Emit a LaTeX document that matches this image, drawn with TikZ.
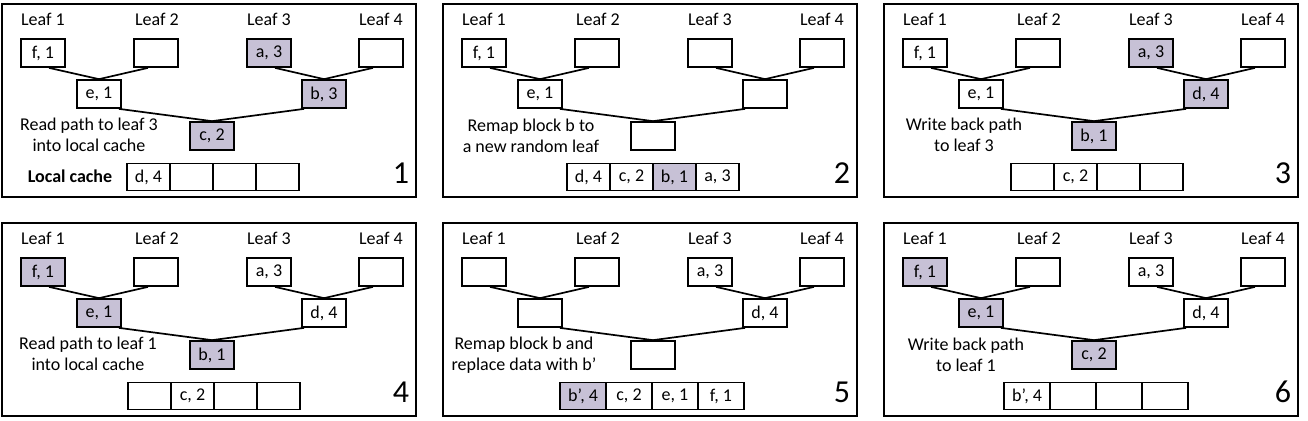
\documentclass[tikz,border=0pt]{standalone}
\usepackage{fontspec}
\setmainfont{Carlito}
\usetikzlibrary{positioning}
\definecolor{pathshade}{RGB}{199,193,214}

\begin{document}
\begin{tikzpicture}[
    % Global options: one unit is one pixel of the 1308x420 sheet
    x=0.5pt, y=-0.5pt,
    line width=0.85pt,
    font=\fontsize{9}{10.5}\selectfont,
    blk/.style={draw, minimum width=22pt, minimum height=14pt, inner sep=1pt},
    hot/.style={blk, fill=pathshade},
    cell/.style={blk, minimum width=21.5pt, minimum height=13.5pt, outer sep=0pt},
    widecell/.style={cell, minimum width=23pt},
    panelbox/.style={line width=1.2pt},
    link/.style={line width=0.85pt},
    note/.style={align=center},
    stepno/.style={font=\fontsize{16}{18}\selectfont},
  ]
    \useasboundingbox (0,0) rectangle (1308,420);

    % --- Panel 1: read path to leaf 3 ---
    \begin{scope}[shift={(2,4)}, name prefix=p1-]
      \draw[panelbox] (0,0) rectangle (414,193);
      \foreach \i/\x in {1/41,2/155,3/267,4/379}
        \node (t\i) at (\x,15) {Leaf \i};
      \node[blk] (l1) at (41,49) {f, 1};
      \node[blk] (l2) at (154,49) {};
      \node[hot] (l3) at (267,49) {a, 3};
      \node[blk] (l4) at (379,49) {};
      \node[blk] (m1) at (97,90) {e, 1};
      \node[hot] (m2) at (322,90) {b, 3};
      \node[hot] (r) at (210,132) {c, 2};
      \draw[link] ([xshift=3pt]l1.south) -- (m1.north) -- ([xshift=-4pt]l2.south);
      \draw[link] ([xshift=3pt]l3.south) -- (m2.north) -- ([xshift=-4pt]l4.south);
      \draw[link] ([xshift=-1.5pt]m1.south east) -- (r.north) -- ([xshift=1.5pt]m2.south west);
      \node[note] (msg) at (87,131) {Read path to leaf 3\\into local cache};
      \node[font=\fontsize{9}{10.5}\selectfont\bfseries] (lc) at (68,172) {Local cache};
      \node[cell] (c1) at (146.5,173) {d, 4};
      \node[cell, right=0pt of c1] (c2) {};
      \node[cell, right=0pt of c2] (c3) {};
      \node[cell, right=0pt of c3] (c4) {};
      \node[stepno] (n) at (399,169) {1};
    \end{scope}

    % --- Panel 2: remap block b ---
    \begin{scope}[shift={(443,4)}, name prefix=p2-]
      \draw[panelbox] (0,0) rectangle (414,193);
      \foreach \i/\x in {1/41,2/155,3/267,4/379}
        \node (t\i) at (\x,15) {Leaf \i};
      \node[blk] (l1) at (41,49) {f, 1};
      \node[blk] (l2) at (154,49) {};
      \node[blk] (l3) at (267,49) {};
      \node[blk] (l4) at (379,49) {};
      \node[blk] (m1) at (97,90) {e, 1};
      \node[blk] (m2) at (322,90) {};
      \node[blk] (r) at (210,132) {};
      \draw[link] ([xshift=3pt]l1.south) -- (m1.north) -- ([xshift=-4pt]l2.south);
      \draw[link] ([xshift=3pt]l3.south) -- (m2.north) -- ([xshift=-4pt]l4.south);
      \draw[link] ([xshift=-1.5pt]m1.south east) -- (r.north) -- ([xshift=1.5pt]m2.south west);
      \node[note] (msg) at (88,132) {Remap block b to\\a new random leaf};
      \node[cell] (c1) at (145.5,173) {d, 4};
      \node[cell, right=0pt of c1] (c2) {c, 2};
      \node[cell, fill=pathshade, right=0pt of c2] (c3) {b, 1};
      \node[cell, right=0pt of c3] (c4) {a, 3};
      \node[stepno] (n) at (399,169) {2};
    \end{scope}

    % --- Panel 3: write back path to leaf 3 ---
    \begin{scope}[shift={(884,4)}, name prefix=p3-]
      \draw[panelbox] (0,0) rectangle (414,193);
      \foreach \i/\x in {1/41,2/155,3/267,4/379}
        \node (t\i) at (\x,15) {Leaf \i};
      \node[blk] (l1) at (41,49) {f, 1};
      \node[blk] (l2) at (154,49) {};
      \node[hot] (l3) at (267,49) {a, 3};
      \node[blk] (l4) at (379,49) {};
      \node[blk] (m1) at (97,90) {e, 1};
      \node[hot] (m2) at (322,90) {d, 4};
      \node[hot] (r) at (210,132) {b, 1};
      \draw[link] ([xshift=3pt]l1.south) -- (m1.north) -- ([xshift=-4pt]l2.south);
      \draw[link] ([xshift=3pt]l3.south) -- (m2.north) -- ([xshift=-4pt]l4.south);
      \draw[link] ([xshift=-1.5pt]m1.south east) -- (r.north) -- ([xshift=1.5pt]m2.south west);
      \node[note] (msg) at (80,131) {Write back path\\to leaf 3};
      \node[cell] (c1) at (148.5,173) {};
      \node[cell, right=0pt of c1] (c2) {c, 2};
      \node[cell, right=0pt of c2] (c3) {};
      \node[cell, right=0pt of c3] (c4) {};
      \node[stepno] (n) at (399,169) {3};
    \end{scope}

    % --- Panel 4: read path to leaf 1 ---
    \begin{scope}[shift={(2,223)}, name prefix=p4-]
      \draw[panelbox] (0,0) rectangle (414,193);
      \foreach \i/\x in {1/41,2/155,3/267,4/379}
        \node (t\i) at (\x,15) {Leaf \i};
      \node[hot] (l1) at (41,49) {f, 1};
      \node[blk] (l2) at (154,49) {};
      \node[blk] (l3) at (267,49) {a, 3};
      \node[blk] (l4) at (379,49) {};
      \node[hot] (m1) at (97,90) {e, 1};
      \node[blk] (m2) at (322,90) {d, 4};
      \node[hot] (r) at (210,132) {b, 1};
      \draw[link] ([xshift=3pt]l1.south) -- (m1.north) -- ([xshift=-4pt]l2.south);
      \draw[link] ([xshift=3pt]l3.south) -- (m2.north) -- ([xshift=-4pt]l4.south);
      \draw[link] ([xshift=-1.5pt]m1.south east) -- (r.north) -- ([xshift=1.5pt]m2.south west);
      \node[note] (msg) at (86,131) {Read path to leaf 1\\into local cache};
      \node[cell] (c1) at (147.5,173) {};
      \node[cell, right=0pt of c1] (c2) {c, 2};
      \node[cell, right=0pt of c2] (c3) {};
      \node[cell, right=0pt of c3] (c4) {};
      \node[stepno] (n) at (399,169) {4};
    \end{scope}

    % --- Panel 5: remap block b, new data b' ---
    \begin{scope}[shift={(443,223)}, name prefix=p5-]
      \draw[panelbox] (0,0) rectangle (414,193);
      \foreach \i/\x in {1/41,2/155,3/267,4/379}
        \node (t\i) at (\x,15) {Leaf \i};
      \node[blk] (l1) at (41,49) {};
      \node[blk] (l2) at (154,49) {};
      \node[blk] (l3) at (267,49) {a, 3};
      \node[blk] (l4) at (379,49) {};
      \node[blk] (m1) at (97,90) {};
      \node[blk] (m2) at (322,90) {d, 4};
      \node[blk] (r) at (210,132) {};
      \draw[link] ([xshift=3pt]l1.south) -- (m1.north) -- ([xshift=-4pt]l2.south);
      \draw[link] ([xshift=3pt]l3.south) -- (m2.north) -- ([xshift=-4pt]l4.south);
      \draw[link] ([xshift=-1.5pt]m1.south east) -- (r.north) -- ([xshift=1.5pt]m2.south west);
      \node[note] (msg) at (81,132) {Remap block b and\\replace data with b’};
      \node[widecell, fill=pathshade] (c1) at (140,173) {b’, 4};
      \node[widecell, right=0pt of c1] (c2) {c, 2};
      \node[widecell, right=0pt of c2] (c3) {e, 1};
      \node[widecell, right=0pt of c3] (c4) {f, 1};
      \node[stepno] (n) at (399,169) {5};
    \end{scope}

    % --- Panel 6: write back path to leaf 1 ---
    \begin{scope}[shift={(884,223)}, name prefix=p6-]
      \draw[panelbox] (0,0) rectangle (414,193);
      \foreach \i/\x in {1/41,2/155,3/267,4/379}
        \node (t\i) at (\x,15) {Leaf \i};
      \node[hot] (l1) at (41,49) {f, 1};
      \node[blk] (l2) at (154,49) {};
      \node[blk] (l3) at (267,49) {a, 3};
      \node[blk] (l4) at (379,49) {};
      \node[hot] (m1) at (97,90) {e, 1};
      \node[blk] (m2) at (322,90) {d, 4};
      \node[hot] (r) at (210,132) {c, 2};
      \draw[link] ([xshift=3pt]l1.south) -- (m1.north) -- ([xshift=-4pt]l2.south);
      \draw[link] ([xshift=3pt]l3.south) -- (m2.north) -- ([xshift=-4pt]l4.south);
      \draw[link] ([xshift=-1.5pt]m1.south east) -- (r.north) -- ([xshift=1.5pt]m2.south west);
      \node[note] (msg) at (82,132) {Write back path\\to leaf 1};
      \node[widecell] (c1) at (143,173) {b’, 4};
      \node[widecell, right=0pt of c1] (c2) {};
      \node[widecell, right=0pt of c2] (c3) {};
      \node[widecell, right=0pt of c3] (c4) {};
      \node[stepno] (n) at (399,169) {6};
    \end{scope}
  \end{tikzpicture}
\end{document}
